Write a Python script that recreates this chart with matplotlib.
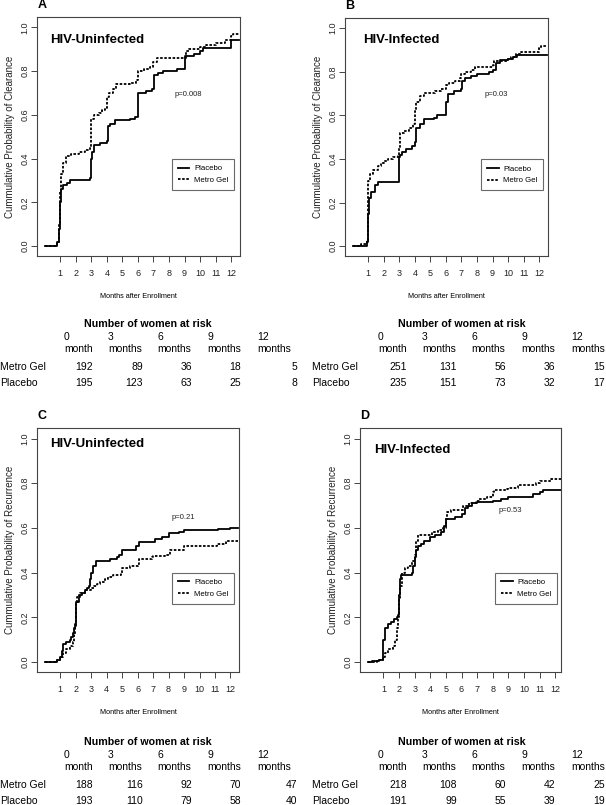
import matplotlib
matplotlib.use("Agg")
import matplotlib.pyplot as plt

# --- curve data (months, cumulative probability) ---
a_placebo_t = [0, 0.8, 0.9, 1.0, 1.05, 1.2, 1.4, 1.6, 2.9, 3.0, 3.05, 3.2, 3.55, 4.0, 4.05, 4.2,
               4.5, 5.5, 5.8, 6.0, 6.5, 6.9, 7.05, 7.3, 7.6, 8.5, 9.05, 9.6, 10.0, 10.2, 12.0, 12.5]
a_placebo_p = [0, 0.02, 0.08, 0.20, 0.26, 0.28, 0.29, 0.30, 0.31, 0.40, 0.43, 0.46, 0.47, 0.48, 0.55, 0.56,
               0.575, 0.58, 0.59, 0.70, 0.71, 0.72, 0.78, 0.79, 0.80, 0.81, 0.87, 0.88, 0.89, 0.905, 0.94, 0.94]
a_metro_t = [0, 0.8, 0.9, 1.0, 1.05, 1.2, 1.35, 1.7, 2.2, 2.6, 2.9, 2.95, 3.0, 3.2, 3.5, 3.7, 3.9, 4.0,
             4.15, 4.4, 4.6, 5.5, 5.9, 6.0, 6.4, 6.8, 7.0, 7.2, 9.1, 9.3, 10.0, 10.4, 11.0, 11.6, 12.0, 12.1, 12.5]
a_metro_p = [0, 0.02, 0.10, 0.25, 0.33, 0.38, 0.41, 0.42, 0.43, 0.44, 0.45, 0.47, 0.58, 0.60, 0.61, 0.62, 0.63, 0.68,
             0.70, 0.72, 0.74, 0.745, 0.76, 0.80, 0.81, 0.82, 0.84, 0.86, 0.89, 0.90, 0.91, 0.92, 0.93, 0.94, 0.96, 0.97, 0.97]

b_placebo_t = [0, 0.9, 1.0, 1.05, 1.2, 1.4, 1.6, 3.0, 3.05, 3.2, 3.4, 3.8, 4.0, 4.05, 4.3, 4.6, 5.2, 5.4,
               6.0, 6.1, 6.5, 7.0, 7.05, 7.2, 7.6, 8.0, 8.8, 9.0, 9.2, 9.5, 10.0, 10.3, 10.6, 12.5]
b_placebo_p = [0, 0.02, 0.15, 0.22, 0.25, 0.28, 0.295, 0.41, 0.42, 0.43, 0.445, 0.46, 0.48, 0.54, 0.56, 0.585, 0.59, 0.60,
               0.66, 0.70, 0.71, 0.72, 0.76, 0.77, 0.78, 0.79, 0.80, 0.81, 0.84, 0.855, 0.86, 0.87, 0.875, 0.875]
b_metro_t = [0, 0.5, 0.9, 1.0, 1.1, 1.3, 1.6, 1.8, 2.0, 2.3, 2.6, 2.9, 3.0, 3.05, 3.3, 3.6, 3.9, 4.0, 4.1, 4.3,
             4.6, 5.3, 5.7, 6.0, 6.2, 6.6, 6.9, 7.0, 7.2, 7.6, 7.9, 9.0, 9.1, 10.0, 10.2, 10.5, 10.8, 12.0, 12.1, 12.5]
b_metro_p = [0, 0.01, 0.03, 0.30, 0.33, 0.35, 0.37, 0.38, 0.39, 0.40, 0.41, 0.42, 0.45, 0.52, 0.53, 0.54, 0.56, 0.62, 0.66, 0.69,
             0.705, 0.71, 0.72, 0.74, 0.75, 0.76, 0.77, 0.79, 0.80, 0.81, 0.82, 0.83, 0.85, 0.86, 0.87, 0.88, 0.89, 0.91, 0.92, 0.92]

c_placebo_t = [0, 0.8, 1.0, 1.1, 1.2, 1.4, 1.6, 1.7, 1.8, 1.9, 1.95, 2.0, 2.2, 2.4, 2.6, 2.7, 2.85, 2.95,
               3.0, 3.1, 3.3, 4.2, 4.7, 4.8, 5.0, 5.9, 6.1, 7.1, 7.6, 8.0, 8.7, 9.0, 11.2, 12.0, 12.5]
c_placebo_p = [0, 0.01, 0.02, 0.05, 0.08, 0.09, 0.10, 0.11, 0.13, 0.15, 0.17, 0.27, 0.30, 0.31, 0.32, 0.33, 0.34, 0.37,
               0.40, 0.43, 0.45, 0.46, 0.47, 0.48, 0.50, 0.52, 0.535, 0.55, 0.56, 0.575, 0.58, 0.59, 0.595, 0.60, 0.60]
c_metro_t = [0, 0.8, 1.0, 1.2, 1.4, 1.6, 1.8, 1.9, 1.97, 2.0, 2.1, 2.3, 2.6, 3.0, 3.2, 3.4, 3.6, 3.9, 4.1,
             4.4, 4.9, 5.0, 5.5, 6.0, 6.1, 6.9, 7.0, 7.8, 8.1, 9.0, 11.1, 11.7, 12.5]
c_metro_p = [0, 0.01, 0.02, 0.04, 0.06, 0.07, 0.09, 0.12, 0.15, 0.27, 0.29, 0.31, 0.32, 0.33, 0.34, 0.35, 0.36, 0.37, 0.38,
             0.39, 0.40, 0.42, 0.43, 0.44, 0.46, 0.47, 0.475, 0.48, 0.50, 0.52, 0.53, 0.54, 0.54]

d_placebo_t = [0, 0.3, 0.7, 1.0, 1.1, 1.3, 1.5, 1.7, 1.85, 1.95, 2.0, 2.05, 2.1, 2.8, 2.9, 3.0, 3.1, 3.2, 3.4,
               3.6, 4.0, 4.3, 4.7, 4.9, 5.0, 5.6, 6.0, 6.2, 6.4, 6.7, 7.0, 8.0, 8.5, 9.0, 10.6, 11.0, 11.2, 12.5]
d_placebo_p = [0, 0.005, 0.01, 0.10, 0.15, 0.17, 0.18, 0.19, 0.20, 0.21, 0.30, 0.37, 0.39, 0.40, 0.43, 0.47, 0.50, 0.52, 0.53,
               0.54, 0.56, 0.57, 0.58, 0.61, 0.64, 0.65, 0.66, 0.69, 0.70, 0.71, 0.715, 0.72, 0.73, 0.74, 0.75, 0.76, 0.77, 0.77]
d_metro_t = [0, 0.6, 1.0, 1.1, 1.3, 1.6, 1.75, 1.85, 1.9, 1.95, 2.0, 2.05, 2.2, 2.4, 2.6, 2.8, 3.0, 3.1, 3.2, 4.1,
             4.5, 4.8, 5.0, 5.1, 5.3, 6.1, 6.5, 6.9, 7.1, 7.6, 8.0, 8.1, 8.9, 9.0, 9.6, 10.8, 11.0, 11.7, 12.5]
d_metro_p = [0, 0.01, 0.02, 0.04, 0.06, 0.07, 0.10, 0.12, 0.15, 0.20, 0.28, 0.34, 0.40, 0.42, 0.43, 0.45, 0.48, 0.54, 0.57, 0.58,
             0.59, 0.60, 0.64, 0.67, 0.68, 0.70, 0.71, 0.72, 0.73, 0.74, 0.76, 0.77, 0.775, 0.78, 0.79, 0.80, 0.81, 0.82, 0.82]

# --- numbers at risk ---
risk_months = ["0", "3", "6", "9", "12"]
risk_units = ["month", "months", "months", "months", "months"]
a_risk_metro = [192, 89, 36, 18, 5]
a_risk_placebo = [195, 123, 63, 25, 8]
b_risk_metro = [251, 131, 56, 36, 15]
b_risk_placebo = [235, 151, 73, 32, 17]
c_risk_metro = [188, 116, 92, 70, 47]
c_risk_placebo = [193, 110, 79, 58, 40]
d_risk_metro = [218, 108, 60, 42, 25]
d_risk_placebo = [191, 99, 55, 39, 19]

x_ticks = list(range(1, 13))
y_ticks = [0.0, 0.2, 0.4, 0.6, 0.8, 1.0]

W, H = 606, 805
SANS = ["Liberation Sans", "DejaVu Sans"]
AXCOL = "#444444"

plt.rcParams["font.family"] = SANS

fig = plt.figure(figsize=(W / 100, H / 100), dpi=100)


def fx(x):
    return x / W


def fy(y):
    return 1 - y / H


def km_panel(rect, letter, title, title_xy, ylabel, pval, p_xy, placebo, metro, legend_anchor, xmax):
    left, top, right, bottom = rect
    ax = fig.add_axes([fx(left), fy(bottom), (right - left) / W, (bottom - top) / H])
    ax.plot(placebo[0], placebo[1], drawstyle="steps-post", color="black", lw=1.3, label="Placebo")
    ax.plot(metro[0], metro[1], drawstyle="steps-post", color="black", lw=1.3,
            linestyle=(0, (1.4, 0.9)), label="Metro Gel")
    ax.set_xlim(-0.5, xmax)
    ax.set_ylim(-0.045, 1.047)
    ax.set_xticks(x_ticks)
    ax.set_yticks(y_ticks)
    ax.set_yticklabels([f"{v:.1f}" for v in y_ticks], rotation=90, va="center")
    for lab in ax.get_xticklabels() + ax.get_yticklabels():
        lab.set_fontsize(6.5)
        lab.set_color("#222222")
    ax.tick_params(direction="out", length=4, width=0.7, color=AXCOL, pad=5.5)
    ax.tick_params(axis="y", pad=1.5)
    for s in ax.spines.values():
        s.set_color(AXCOL)
        s.set_linewidth(0.8)
    ax.set_xlabel("Months after Enrollment", fontsize=5.2, labelpad=11)
    ax.set_ylabel(ylabel, fontsize=7, labelpad=4, color="#222222")
    leg = ax.legend(loc="upper left", bbox_to_anchor=legend_anchor, borderaxespad=0,
                    prop={"size": 5.6}, fancybox=False, edgecolor=AXCOL,
                    handlelength=1.5, handletextpad=0.6, borderpad=0.75, labelspacing=0.55)
    leg.get_frame().set_linewidth(0.8)
    fig.text(fx(title_xy[0]), fy(title_xy[1]), title, ha="left", va="center",
             weight="bold", fontsize=9.5)
    fig.text(fx(p_xy[0]), fy(p_xy[1]), pval, ha="center", va="center",
             fontsize=5.5, color="#222222")
    fig.text(fx(left + 5), fy(top - 12), letter, ha="center", va="center",
             weight="bold", fontsize=9)
    return ax


HDR_X = [64, 108, 157, 207, 257]
NUM_X = [93, 143, 192, 241, 297]


def risk_table(x0, y0, metro, placebo):
    fig.text(fx(x0 + 148), fy(y0), "Number of women at risk", ha="center", va="center",
             weight="bold", fontsize=7.7)
    for hx, m, u in zip(HDR_X, risk_months, risk_units):
        fig.text(fx(x0 + hx), fy(y0 + 13), m, ha="left", va="center", fontsize=7.5)
        fig.text(fx(x0 + hx), fy(y0 + 25), u, ha="left", va="center", fontsize=7.5)
    label_x = 0 if x0 == 0 else x0 - 2
    for row_y, name, vals in [(y0 + 43, "Metro Gel", metro), (y0 + 59, "Placebo", placebo)]:
        fig.text(fx(label_x), fy(row_y), name, ha="left", va="center", fontsize=7.5)
        for nx, v in zip(NUM_X, vals):
            fig.text(fx(min(x0 + nx, 605)), fy(row_y), str(v), ha="right", va="center", fontsize=7.5)


km_panel((37, 17, 240, 256), "A", "HIV-Uninfected", (50, 40), "Cummulative Probability of Clearance",
         "p=0.008", (188, 95), (a_placebo_t, a_placebo_p), (a_metro_t, a_metro_p), (0.665, 0.406), 12.57)
km_panel((345, 18, 548, 256), "B", "HIV-Infected", (363, 40), "Cummulative Probability of Clearance",
         "p=0.03", (496, 94), (b_placebo_t, b_placebo_p), (b_metro_t, b_metro_p), (0.67, 0.406), 12.57)
km_panel((37, 428, 239, 672), "C", "HIV-Uninfected", (50, 444), "Cummulative Probability of Recurrence",
         "p=0.21", (183, 517), (c_placebo_t, c_placebo_p), (c_metro_t, c_metro_p), (0.668, 0.406), 12.55)
km_panel((360, 428, 561, 672), "D", "HIV-Infected", (374, 450), "Cummulative Probability of Recurrence",
         "p=0.53", (510, 510), (d_placebo_t, d_placebo_p), (d_metro_t, d_metro_p), (0.672, 0.406), 12.37)

risk_table(0, 324, a_risk_metro, a_risk_placebo)
risk_table(314, 324, b_risk_metro, b_risk_placebo)
risk_table(0, 742, c_risk_metro, c_risk_placebo)
risk_table(314, 742, d_risk_metro, d_risk_placebo)

fig.savefig("out.png", dpi=100)
